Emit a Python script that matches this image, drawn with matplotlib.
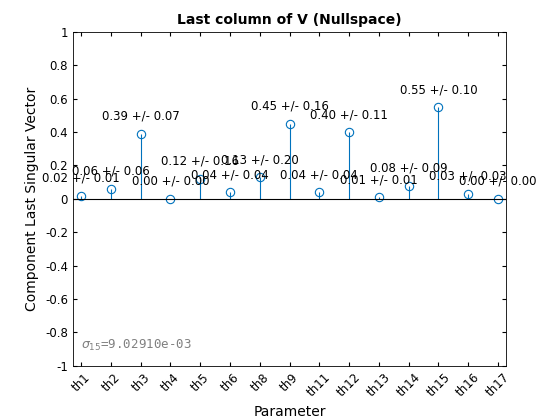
import numpy as np
import matplotlib.pyplot as plt

params = ['th1', 'th2', 'th3', 'th4', 'th5', 'th6', 'th8', 'th9', 'th11',
          'th12', 'th13', 'th14', 'th15', 'th16', 'th17']
values = [0.02, 0.06, 0.39, 0.00, 0.12, 0.04, 0.13, 0.45, 0.04, 0.40, 0.01, 0.08, 0.55, 0.03, 0.00]
errors = [0.01, 0.06, 0.07, 0.00, 0.16, 0.04, 0.20, 0.16, 0.04, 0.11, 0.01, 0.09, 0.10, 0.03, 0.00]
sigma_text = r'$\sigma_{15}$=9.02910e-03'

blue = '#0072BD'
fig = plt.figure(figsize=(5.6, 4.2), dpi=100)
ax = fig.add_axes([0.130, 0.129, 0.774, 0.795])
x = np.arange(1, len(params) + 1)

ml, sl, bl = ax.stem(x, values, basefmt='k-')
plt.setp(sl, color=blue, linewidth=0.8)
plt.setp(ml, markerfacecolor='none', markeredgecolor=blue, markersize=6, markeredgewidth=0.8)
plt.setp(bl, color='k', linewidth=0.8)
bl.set_xdata([0.7, 15.3])

for xi, v, e in zip(x, values, errors):
    ax.text(xi, v + 0.105, '%.2f +/- %.2f' % (v, e), ha='center', va='center', fontsize=8.5)

ax.text(1.0, -0.88, sigma_text, family='monospace', color='#808080', fontsize=9, va='center')

ax.set_xlim(0.72, 15.28)
ax.set_ylim(-1, 1)
ax.set_yticks(np.arange(-1, 1.01, 0.2))
ax.set_yticklabels(['-1', '-0.8', '-0.6', '-0.4', '-0.2', '0', '0.2', '0.4', '0.6', '0.8', '1'])
ax.set_xticks(x)
ax.set_xticklabels(params, rotation=45, ha='center')
ax.tick_params(direction='in', labelsize=8.5, top=True, right=True, length=3)
ax.set_xlabel('Parameter', fontsize=10)
ax.set_ylabel('Component Last Singular Vector', fontsize=10)
ax.set_title('Last column of V (Nullspace)', fontsize=10, fontweight='bold')
for s in ax.spines.values():
    s.set_linewidth(0.6)

fig.savefig('out.png')
